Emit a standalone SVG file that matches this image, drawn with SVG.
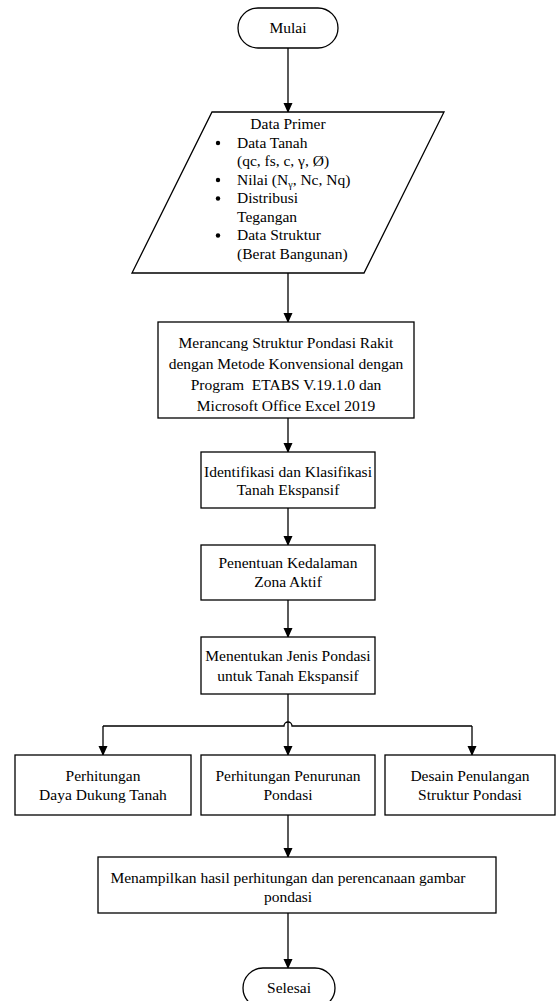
<svg xmlns="http://www.w3.org/2000/svg" width="557" height="1001" viewBox="0 0 557 1001">
<style>
.s{fill:#fff;stroke:#000;stroke-width:1.3}
.t{font-family:'Liberation Serif','Times New Roman',serif;font-size:15.5px;fill:#000}
.c{text-anchor:middle}
.e{fill:none;stroke:#000;stroke-width:1.3}
</style>
<defs>
<marker id="ah" markerWidth="10" markerHeight="10" refX="9" refY="5" orient="auto" markerUnits="userSpaceOnUse">
<path d="M0,0.5 L10,5 L0,9.5 Z" fill="#000"/>
</marker>
</defs>
<rect width="557" height="1001" fill="#fff"/>
<g id="connectors">
<line class="e" x1="288" y1="48" x2="288" y2="112" marker-end="url(#ah)"/>
<line class="e" x1="288" y1="273" x2="288" y2="322" marker-end="url(#ah)"/>
<line class="e" x1="288" y1="418" x2="288" y2="452" marker-end="url(#ah)"/>
<line class="e" x1="288" y1="508" x2="288" y2="545" marker-end="url(#ah)"/>
<line class="e" x1="288" y1="600" x2="288" y2="637" marker-end="url(#ah)"/>
<line class="e" x1="288" y1="694" x2="288" y2="755" marker-end="url(#ah)"/>
<path class="e" d="M103,726 L284,726 A4,4 0 0 1 292,726 L472,726"/>
<line class="e" x1="103" y1="726" x2="103" y2="755" marker-end="url(#ah)"/>
<line class="e" x1="472" y1="726" x2="472" y2="755" marker-end="url(#ah)"/>
<line class="e" x1="288" y1="815" x2="288" y2="857" marker-end="url(#ah)"/>
<line class="e" x1="288" y1="913" x2="288" y2="968" marker-end="url(#ah)"/>
</g>
<g font-family="Liberation Serif, serif">
<g id="mulai">
<rect class="s" x="238" y="8" width="100" height="40" rx="20"/>
<text class="t c" x="288" y="33">Mulai</text>
</g>
<g id="data-primer">
<polygon class="s" points="212,112 444,112 364,273 132,273"/>
<text class="t c" x="288" y="129">Data Primer</text>
<g class="t">
<circle cx="218" cy="143" r="2.2"/>
<text x="237" y="147.5">Data Tanah</text>
<text x="237" y="166">(qc, fs, c, γ, Ø)</text>
<circle cx="218" cy="180" r="2.2"/>
<text x="237" y="184.5">Nilai (N<tspan font-size="10" dy="3">γ</tspan><tspan dy="-3">, Nc, Nq)</tspan></text>
<circle cx="218" cy="198.5" r="2.2"/>
<text x="237" y="203">Distribusi</text>
<text x="237" y="221.5">Tegangan</text>
<circle cx="218" cy="235.5" r="2.2"/>
<text x="237" y="240">Data Struktur</text>
<text x="237" y="258.5">(Berat Bangunan)</text>
</g>
</g>
<g id="merancang">
<rect class="s" x="158" y="322" width="256" height="96"/>
<text class="t c" x="286" y="348">Merancang Struktur Pondasi Rakit</text>
<text class="t c" x="286" y="369">dengan Metode Konvensional dengan</text>
<text class="t c" x="286" y="390" xml:space="preserve">Program  ETABS V.19.1.0 dan</text>
<text class="t c" x="286" y="411">Microsoft Office Excel 2019</text>
</g>
<g id="identifikasi">
<rect class="s" x="201" y="452" width="174" height="56"/>
<text class="t c" x="288" y="477">Identifikasi dan Klasifikasi</text>
<text class="t c" x="288" y="495">Tanah Ekspansif</text>
</g>
<g id="penentuan">
<rect class="s" x="201" y="545" width="174" height="55"/>
<text class="t c" x="288" y="568">Penentuan Kedalaman</text>
<text class="t c" x="288" y="587">Zona Aktif</text>
</g>
<g id="menentukan">
<rect class="s" x="201" y="637" width="174" height="57"/>
<text class="t c" x="288" y="661">Menentukan Jenis Pondasi</text>
<text class="t c" x="288" y="681">untuk Tanah Ekspansif</text>
</g>
<g id="daya-dukung">
<rect class="s" x="15" y="755" width="176" height="60"/>
<text class="t c" x="103" y="781">Perhitungan</text>
<text class="t c" x="103" y="800">Daya Dukung Tanah</text>
</g>
<g id="penurunan">
<rect class="s" x="201" y="755" width="174" height="60"/>
<text class="t c" x="288" y="781">Perhitungan Penurunan</text>
<text class="t c" x="288" y="800">Pondasi</text>
</g>
<g id="penulangan">
<rect class="s" x="385" y="755" width="170" height="60"/>
<text class="t c" x="470" y="781">Desain Penulangan</text>
<text class="t c" x="470" y="800">Struktur Pondasi</text>
</g>
<g id="menampilkan">
<rect class="s" x="98" y="857" width="398" height="56"/>
<text class="t c" x="288" y="883">Menampilkan hasil perhitungan dan perencanaan gambar</text>
<text class="t c" x="288" y="902">pondasi</text>
</g>
<g id="selesai">
<rect class="s" x="243" y="968" width="92" height="40" rx="20"/>
<text class="t c" x="289" y="993">Selesai</text>
</g>
</g>
</svg>
